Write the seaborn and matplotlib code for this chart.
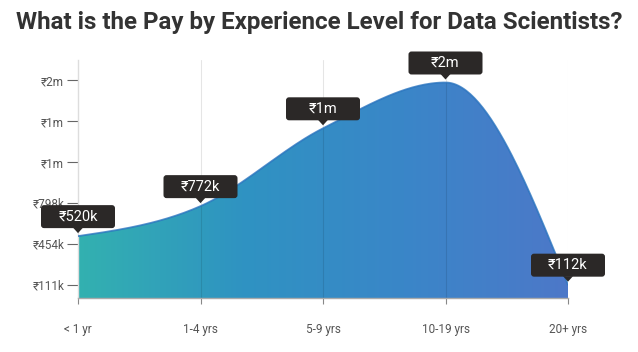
import numpy as np
import seaborn as sns
import matplotlib.pyplot as plt
import matplotlib.transforms as mtransforms
from matplotlib.colors import LinearSegmentedColormap
from matplotlib.patches import FancyBboxPatch, Polygon

# data
levels = ['< 1 yr', '1-4 yrs', '5-9 yrs', '10-19 yrs', '20+ yrs']
pay = [520000, 772000, 1426000, 1811000, 112000]
pay_labels = ['₹520k', '₹772k', '₹1m', '₹2m', '₹112k']
ytick_vals = [111000, 454000, 798000, 1141000, 1485000, 1828000]
ytick_labels = ['₹111k', '₹454k', '₹798k', '₹1m', '₹1m', '₹2m']

sns.set_theme(style="white")
plt.rcParams['font.family'] = ['Roboto', 'DejaVu Sans']


def monotone_x(y, n=60):
    # d3-style monotone cubic through equally spaced points
    y = np.asarray(y, dtype=float)
    s = np.diff(y)
    t = np.zeros_like(y)
    for i in range(1, len(y) - 1):
        s0, s1 = s[i - 1], s[i]
        p = (s0 + s1) / 2
        t[i] = (np.sign(s0) + np.sign(s1)) * min(abs(s0), abs(s1), 0.5 * abs(p))
    t[0] = (3 * s[0] - t[1]) / 2
    t[-1] = (3 * s[-1] - t[-2]) / 2
    xs, ys = [], []
    u = np.linspace(0, 1, n)
    for i in range(len(y) - 1):
        h00 = 2 * u**3 - 3 * u**2 + 1
        h10 = u**3 - 2 * u**2 + u
        h01 = -2 * u**3 + 3 * u**2
        h11 = u**3 - u**2
        xs.append(i + u)
        ys.append(h00 * y[i] + h10 * t[i] + h01 * y[i + 1] + h11 * t[i + 1])
    return np.concatenate(xs), np.concatenate(ys)


fig = plt.figure(figsize=(6.38, 3.52), dpi=100)
ax = fig.add_axes([78 / 638, 1 - 298 / 352, 490 / 638, 238 / 352])

pos = np.arange(len(levels))
xs, ys = monotone_x(pay)

ax.set_xlim(0, len(levels) - 1)
ax.set_ylim(0, 2000000)

# gradient area, clipped to the curve
cmap = LinearSegmentedColormap.from_list('pay', ['#33b1b0', '#2f93c2', '#3a86c8', '#4d78c9'])
img = ax.imshow(np.linspace(0, 1, 256).reshape(1, -1), extent=[0, 4, 0, 2000000],
                aspect='auto', cmap=cmap, origin='lower', zorder=1)
area = Polygon(np.column_stack([np.r_[xs, xs[-1], xs[0]], np.r_[ys, 0, 0]]),
               closed=True, facecolor='none', edgecolor='none')
ax.add_patch(area)
img.set_clip_path(area)

sns.lineplot(x=xs, y=ys, ax=ax, color='#2a74bf', linewidth=1.3, alpha=0.8, zorder=3)

# vertical grid lines over the fill
for p in pos[1:]:
    ax.axvline(p, color='#000000', linewidth=0.8, alpha=0.1, zorder=2.5)

ax.set_xticks(pos)
ax.set_xticklabels(levels)
ax.set_yticks(ytick_vals)
ax.set_yticklabels(ytick_labels)
ax.tick_params(axis='x', length=4, width=0.8, color='#888888', labelsize=8.5,
               labelcolor='#555555', pad=14, bottom=True)
ax.tick_params(axis='y', length=8, width=0.8, color='#666666', labelsize=8.5,
               labelcolor='#555555', pad=2, left=True)
for side in ['top', 'right']:
    ax.spines[side].set_visible(False)
ax.spines['left'].set_color('#dddddd')
ax.spines['bottom'].set_color('#aaaaaa')
ax.spines['left'].set_linewidth(1)
ax.spines['bottom'].set_linewidth(1)

# tooltip labels above each point
for p, v, lab in zip(pos, pay, pay_labels):
    tr = mtransforms.ScaledTranslation(p, v, ax.transData)
    box = FancyBboxPatch((-37, 8), 74, 23, boxstyle='round,pad=0,rounding_size=3',
                         facecolor='#2b2827', edgecolor='none', transform=tr,
                         clip_on=False, zorder=5)
    ax.add_artist(box)
    tip = Polygon([[-5, 8.5], [5, 8.5], [0, 3]], closed=True, facecolor='#2b2827',
                  edgecolor='none', transform=tr, clip_on=False, zorder=5)
    ax.add_artist(tip)
    ax.annotate(lab, (p, v), xytext=(0, 19.5), textcoords='offset pixels',
                ha='center', va='center', color='white', fontsize=10.5,
                zorder=6, annotation_clip=False)

fig.text(0.5, 1 - 23 / 352, 'What is the Pay by Experience Level for Data Scientists?',
         ha='center', va='center', fontsize=17.4, fontweight='bold', color='#333333')

fig.savefig('out.png', dpi=100)
